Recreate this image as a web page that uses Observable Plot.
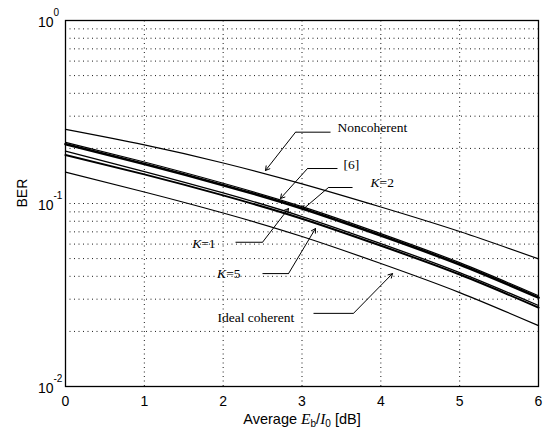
<!DOCTYPE html>
<html>
<head>
<meta charset="utf-8">
<script src="https://cdn.jsdelivr.net/npm/d3@7"></script>
<script src="https://cdn.jsdelivr.net/npm/@observablehq/plot@0.6"></script>
<style>
  html, body { margin: 0; padding: 0; background: #fff; }
</style>
</head>
<body>
<div id="chart"></div>
<script>
// ---- data ----
const ebno = [0, 1, 2, 3, 4, 5, 6];
const berNoncoherent = [0.254, 0.209, 0.1665, 0.128, 0.0957, 0.0703, 0.0498];
const berRef6 = [0.216, 0.1685, 0.129, 0.0962, 0.0685, 0.0475, 0.0313];
const berK2 = [0.211, 0.1644, 0.126, 0.0939, 0.0668, 0.0464, 0.0306];
const berK1 = [0.193, 0.1495, 0.1142, 0.0849, 0.0604, 0.0419, 0.0277];
const berK5 = [0.184, 0.1443, 0.1108, 0.0826, 0.0588, 0.0409, 0.027];
const berIdeal = [0.1483, 0.1156, 0.0887, 0.066, 0.047, 0.0326, 0.0215];

const xTicks = [0, 1, 2, 3, 4, 5, 6];
const yMajor = [1, 0.1, 0.01];
const yExponents = ["0", "-1", "-2"];
const yGrid = [0.02, 0.03, 0.04, 0.05, 0.06, 0.07, 0.08, 0.09,
               0.1, 0.2, 0.3, 0.4, 0.5, 0.6, 0.7, 0.8, 0.9];
const xGrid = [1, 2, 3, 4, 5];

// annotations (data coordinates)
const annText = ["Noncoherent", "[6]", "K=2", "K=1", "K=5", "Ideal coherent"];
const annX = [3.45, 3.527, 3.869, 1.903, 2.22, 1.928];
const annY = [0.2602, 0.1633, 0.1302, 0.0605, 0.0414, 0.0238];
const annAnchor = ["start", "start", "start", "end", "end", "start"];
const leadX = [3.362, 3.45, 3.641, 2.157, 2.499, 3.146];
const leadY = [0.2453, 0.1553, 0.1223, 0.0614, 0.0414, 0.0251];
const elbowX = [2.918, 3.07, 3.336, 2.499, 2.829, 3.653];
const tipX = [2.537, 2.727, 3.006, 2.829, 3.171, 4.148];
const tipY = [0.1515, 0.1065, 0.0925, 0.0939, 0.073, 0.0414];

const seriesDefs = [
  {name: "Noncoherent", ber: berNoncoherent, w: 1.2},
  {name: "[6]", ber: berRef6, w: 1.2},
  {name: "K=2", ber: berK2, w: 2.6},
  {name: "K=1", ber: berK1, w: 1.3},
  {name: "K=5", ber: berK5, w: 2.0},
  {name: "Ideal coherent", ber: berIdeal, w: 1.2}
];
const rows = seriesDefs.flatMap(s => ebno.map((x, i) => ({series: s.name, x, y: s.ber[i]})));
const ann = annText.map((t, i) => ({t, x: annX[i], y: annY[i], a: annAnchor[i],
  lx: leadX[i], ly: leadY[i], ex: elbowX[i], tx: tipX[i], ty: tipY[i]}));

const serif = "'Liberation Serif', 'Times New Roman', serif";
const dotted = {stroke: "black", strokeWidth: 1, strokeDasharray: "1,3.5", strokeOpacity: 0.9};
const annStyle = {x: "x", y: "y", text: "t", fontFamily: serif, fontSize: 13.5, lineAnchor: "middle"};

const svg = Plot.plot({
  width: 556,
  height: 434,
  marginLeft: 65,
  marginRight: 18,
  marginTop: 20,
  marginBottom: 48,
  x: {domain: [0, 6], axis: null},
  y: {type: "log", domain: [0.01, 1], axis: null},
  style: {fontFamily: "'Liberation Sans', Arial, sans-serif", fontSize: "14px", background: "white", color: "black", overflow: "visible"},
  marks: [
    Plot.ruleY(yGrid, {y: d => d, x1: 0, x2: 6, ...dotted}),
    Plot.ruleX(xGrid, {x: d => d, y1: 0.01, y2: 1, ...dotted}),
    ...seriesDefs.map(s => Plot.line(rows.filter(r => r.series === s.name),
        {x: "x", y: "y", stroke: "black", strokeWidth: s.w, curve: "natural"})),
    Plot.frame({stroke: "black", strokeWidth: 1.3}),
    // x tick labels
    Plot.text(xTicks, {x: d => d, frameAnchor: "bottom", dy: 15, lineAnchor: "middle", text: d => String(d), fontSize: 14}),
    // y tick labels 10^n
    Plot.text(yMajor, {y: d => d, frameAnchor: "left", dx: -12, dy: 2, textAnchor: "end", lineAnchor: "middle", text: () => "10", fontSize: 14}),
    Plot.text(yMajor, {y: d => d, frameAnchor: "left", dx: -12, dy: -8, textAnchor: "start", lineAnchor: "middle", text: (d, i) => yExponents[i], fontSize: 10}),
    // axis titles
    Plot.text(["XLABEL"], {frameAnchor: "bottom", dy: 33, lineAnchor: "middle", text: d => d, fontSize: 14.5}),
    Plot.text(["BER"], {frameAnchor: "left", dx: -43, dy: 4, rotate: -90, lineAnchor: "middle", text: d => d, fontSize: 14}),
    // annotations
    Plot.link(ann, {x1: "lx", y1: "ly", x2: "ex", y2: "ly", stroke: "black", strokeWidth: 1}),
    Plot.arrow(ann, {x1: "ex", y1: "ly", x2: "tx", y2: "ty", stroke: "black", strokeWidth: 1, headLength: 7, bend: 0}),
    Plot.text(ann.filter(d => d.a === "start"), {...annStyle, textAnchor: "start"}),
    Plot.text(ann.filter(d => d.a === "end"), {...annStyle, textAnchor: "end"})
  ]
});

// rich text post-processing (italics, subscripts)
d3.select(svg).selectAll("text").each(function () {
  const t = this.textContent;
  const sel = d3.select(this);
  if (/^K=\d$/.test(t)) {
    sel.text(null);
    sel.append("tspan").attr("font-style", "italic").text("K");
    sel.append("tspan").text(t.slice(1));
  } else if (t === "XLABEL") {
    sel.text(null);
    sel.append("tspan").text("Average ");
    sel.append("tspan").attr("font-style", "italic").attr("font-family", serif).attr("font-size", 15.5).text("E");
    sel.append("tspan").attr("font-size", 10).attr("dy", 3).text("b");
    sel.append("tspan").attr("dy", -3).text("/");
    sel.append("tspan").attr("font-style", "italic").attr("font-family", serif).attr("font-size", 15.5).text("I");
    sel.append("tspan").attr("font-size", 10).attr("dy", 3).text("0");
    sel.append("tspan").attr("dy", -3).text(" [dB]");
  }
});

document.getElementById("chart").appendChild(svg);
</script>
</body>
</html>
